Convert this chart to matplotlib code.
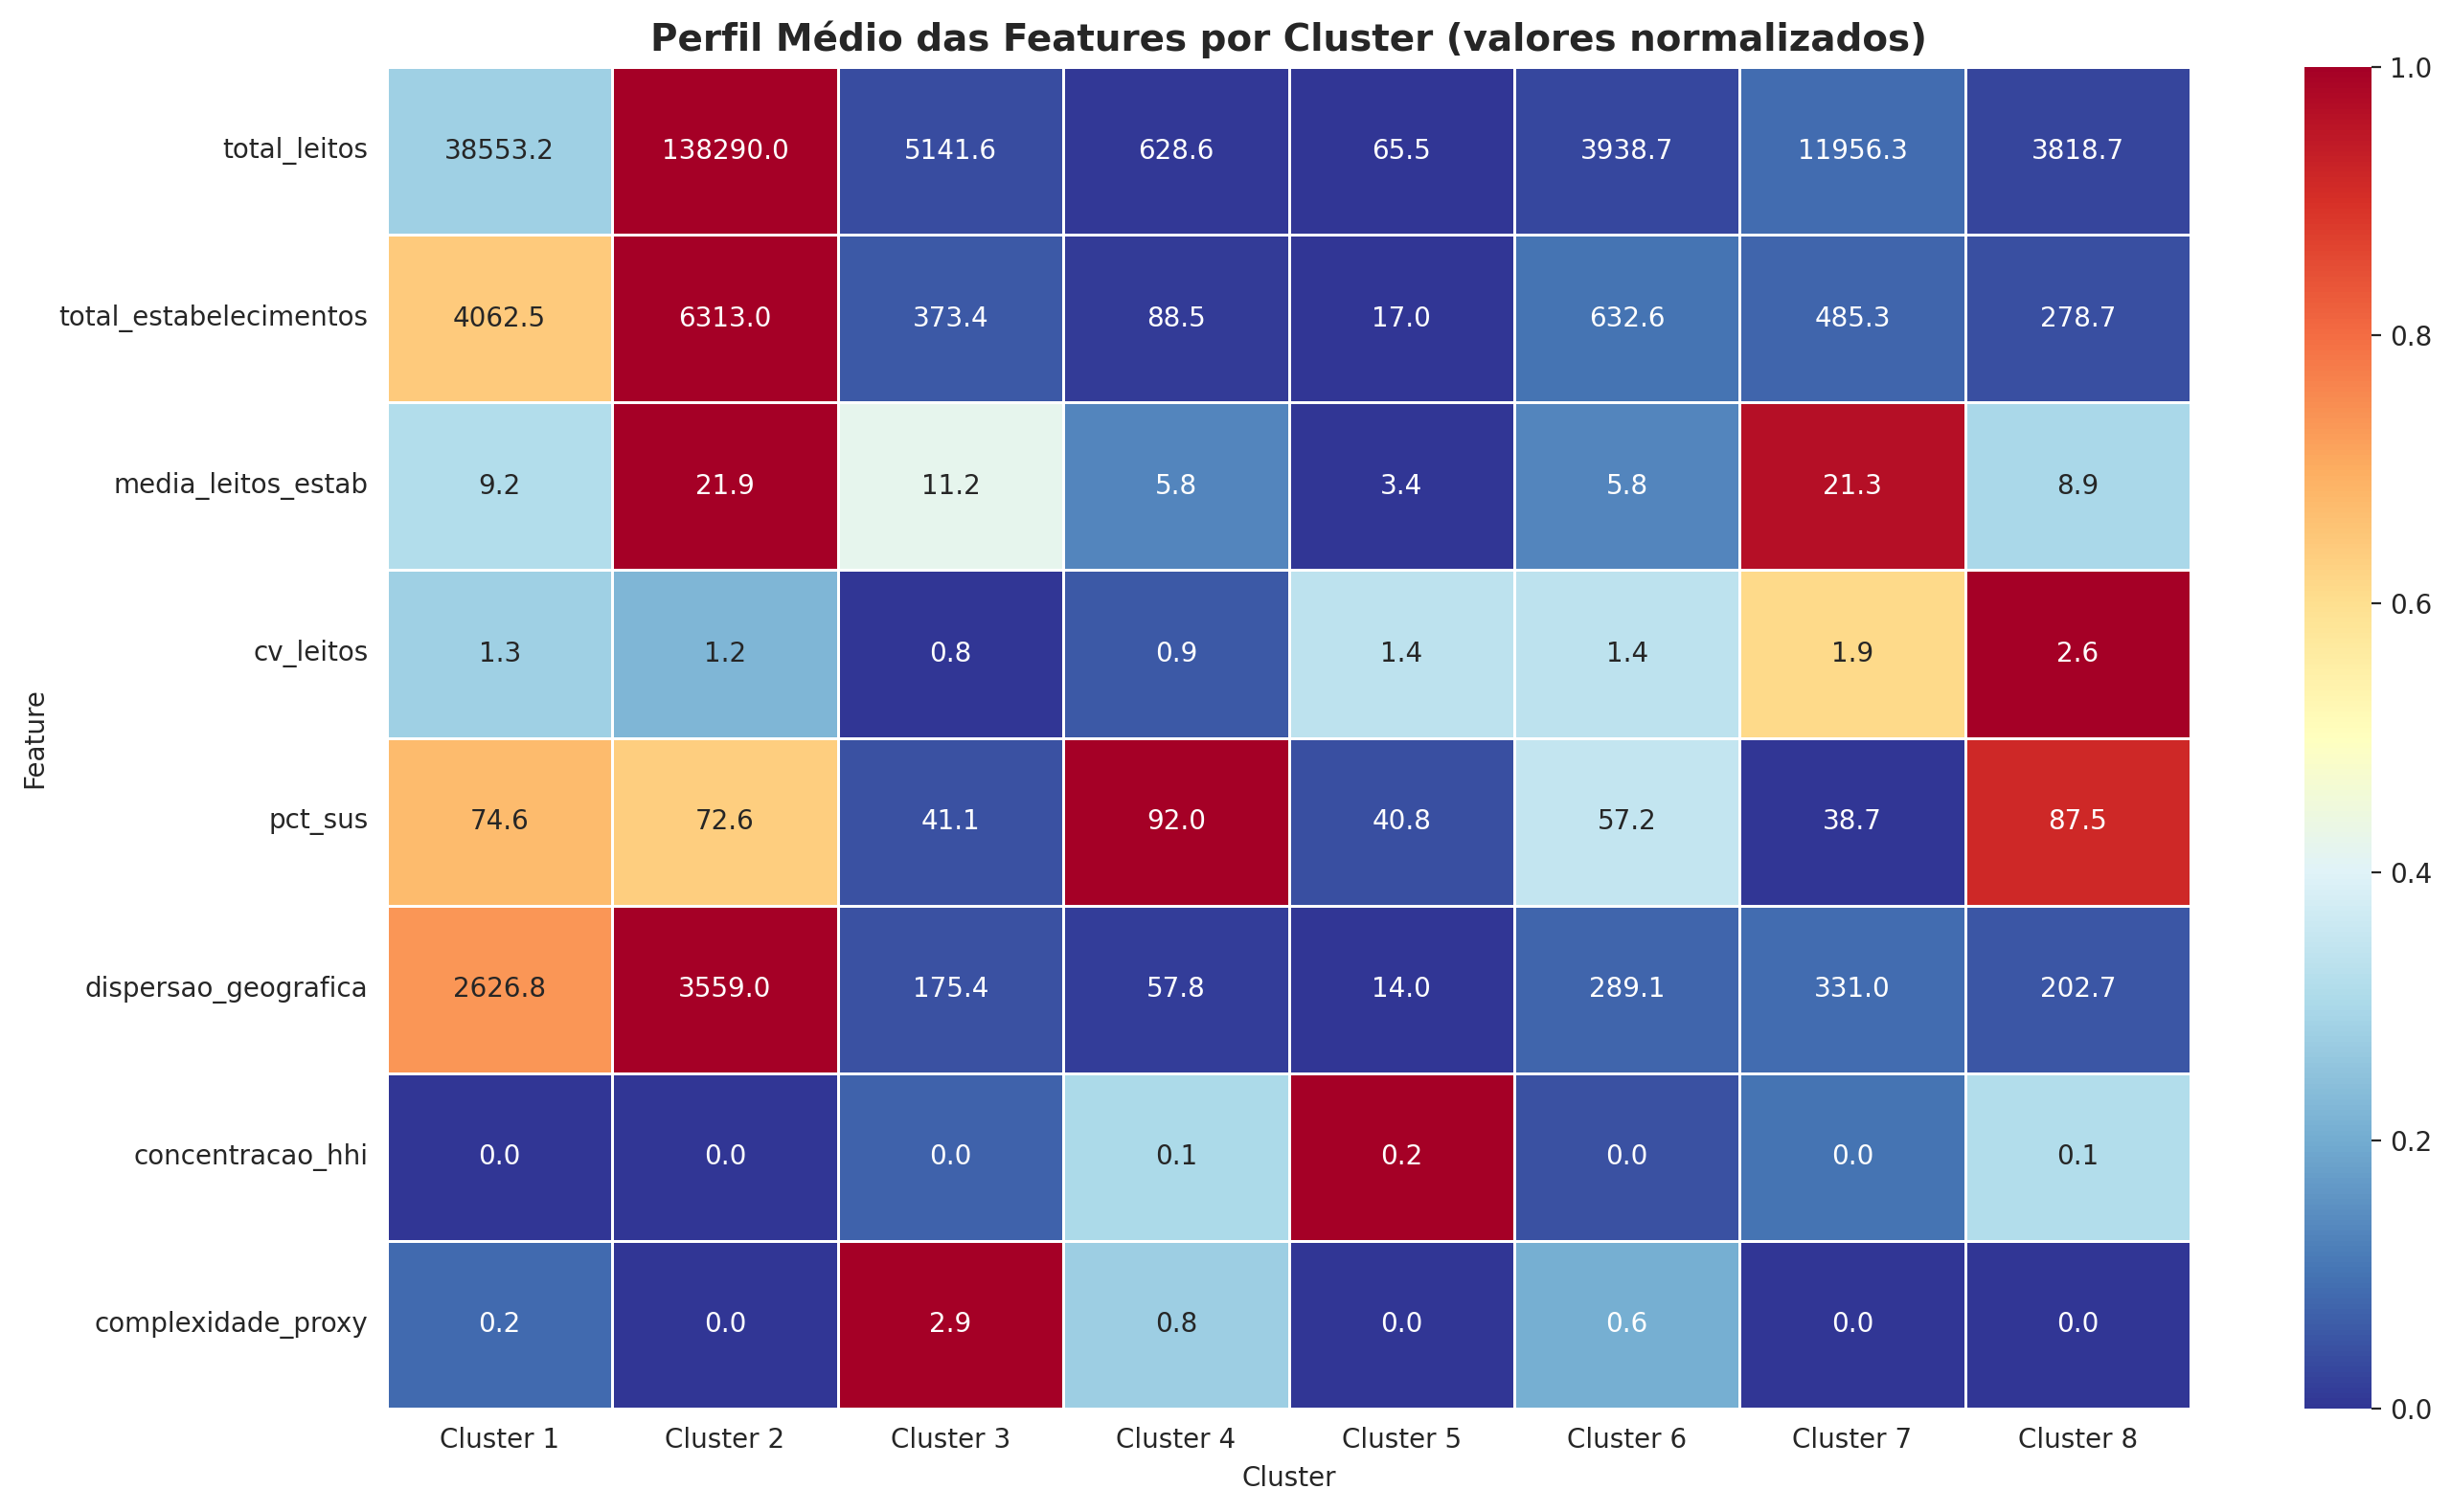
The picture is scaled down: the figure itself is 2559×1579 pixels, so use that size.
import numpy as np
import pandas as pd
import matplotlib
matplotlib.use("Agg")
import matplotlib.pyplot as plt
import seaborn as sns

clusters = ["Cluster 1", "Cluster 2", "Cluster 3", "Cluster 4",
            "Cluster 5", "Cluster 6", "Cluster 7", "Cluster 8"]
features = ["total_leitos", "total_estabelecimentos", "media_leitos_estab",
            "cv_leitos", "pct_sus", "dispersao_geografica",
            "concentracao_hhi", "complexidade_proxy"]

total_leitos = [38553.2, 138290.0, 5141.6, 628.6, 65.5, 3938.7, 11956.3, 3818.7]
total_estabelecimentos = [4062.5, 6313.0, 373.4, 88.5, 17.0, 632.6, 485.3, 278.7]
media_leitos_estab = [9.2, 21.9, 11.2, 5.8, 3.4, 5.8, 21.3, 8.9]
cv_leitos = [1.3, 1.2, 0.8, 0.9, 1.4, 1.4, 1.9, 2.6]
pct_sus = [74.6, 72.6, 41.1, 92.0, 40.8, 57.2, 38.7, 87.5]
dispersao_geografica = [2626.8, 3559.0, 175.4, 57.8, 14.0, 289.1, 331.0, 202.7]
concentracao_hhi = [0.002, 0.002, 0.015, 0.056, 0.180, 0.010, 0.020, 0.058]
complexidade_proxy = [0.24, 0.0, 2.9, 0.8, 0.0, 0.6, 0.0, 0.0]

raw = pd.DataFrame(
    [total_leitos, total_estabelecimentos, media_leitos_estab, cv_leitos,
     pct_sus, dispersao_geografica, concentracao_hhi, complexidade_proxy],
    index=features, columns=clusters)

mins = raw.min(axis=1)
maxs = raw.max(axis=1)
norm = raw.sub(mins, axis=0).div(maxs - mins, axis=0)

sns.set_style("white")
W, H = 2559, 1579
fig = plt.figure(figsize=(W / 200, H / 200), dpi=200)
ax = fig.add_axes([404 / W, 1 - 1471 / H, (2287 - 404) / W, (1471 - 70) / H])
cax = fig.add_axes([2406 / W, 1 - 1471 / H, 70 / W, (1471 - 70) / H])
sns.heatmap(norm, annot=raw.values, fmt=".1f", cmap="RdYlBu_r",
            linewidths=1, linecolor="white", vmin=0, vmax=1, ax=ax,
            cbar_ax=cax, annot_kws={"fontsize": 10})
ax.set_title("Perfil Médio das Features por Cluster (valores normalizados)",
             fontsize=14, fontweight="bold")
ax.set_xlabel("Cluster", fontsize=10)
ax.set_ylabel("Feature", fontsize=10)
ax.tick_params(axis="both", labelsize=10)
plt.setp(ax.get_yticklabels(), rotation=0)
plt.setp(ax.get_xticklabels(), rotation=0)
fig.savefig("out.png", dpi=200)
